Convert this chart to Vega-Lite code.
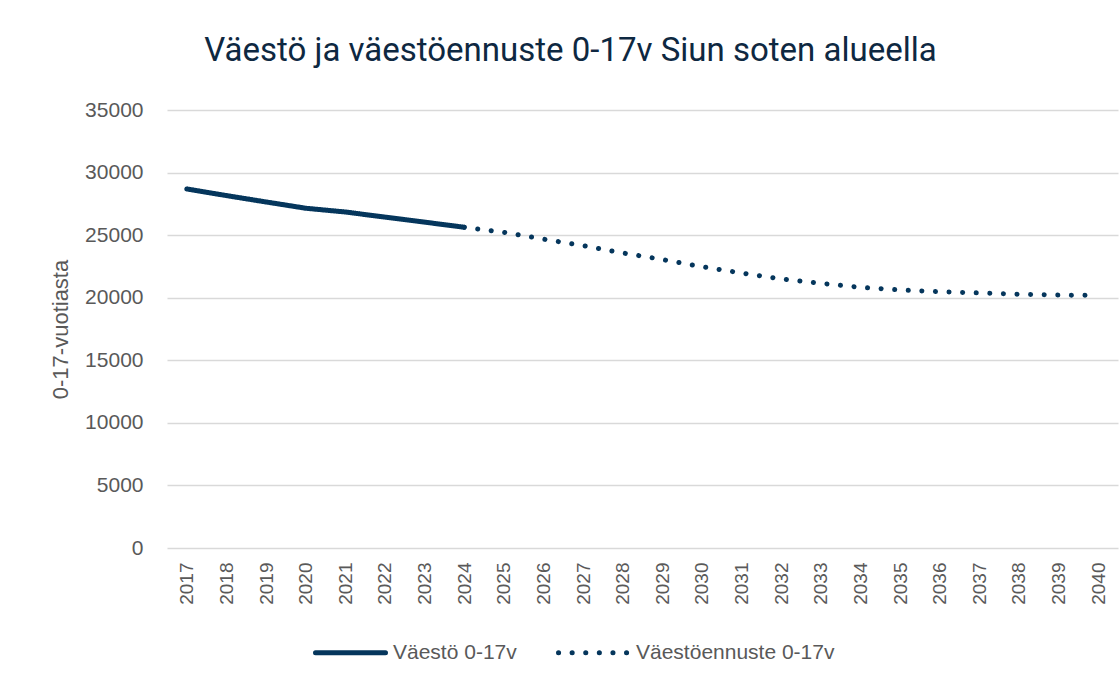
{
  "$schema": "https://vega.github.io/schema/vega-lite/v6.json",
  "autosize": "none",
  "width": 951,
  "height": 438,
  "padding": {"left": 167, "top": 110, "right": 1, "bottom": 137},
  "background": "white",
  "title": {
    "text": "Väestö ja väestöennuste 0-17v Siun soten alueella",
    "font": "Roboto",
    "fontSize": 33,
    "fontWeight": "normal",
    "color": "#0E2841",
    "anchor": "middle",
    "dx": -72,
    "offset": 31
  },
  "config": {
    "view": {"stroke": null},
    "axis": {
      "labelFont": "Liberation Sans, Arial",
      "titleFont": "Liberation Sans, Arial",
      "labelColor": "#595959",
      "titleColor": "#595959",
      "labelFontSize": 19,
      "titleFontSize": 22,
      "titleFontWeight": "normal",
      "gridColor": "#D9D9D9",
      "gridWidth": 1.5,
      "ticks": false,
      "domain": false
    },
    "legend": {
      "labelFont": "Liberation Sans, Arial",
      "labelFontSize": 21,
      "labelColor": "#595959",
      "labelLimit": 400
    }
  },
  "data": {
    "values": [
      {"vuosi": "2017", "sarja": "Väestö 0-17v", "arvo": 28690},
      {"vuosi": "2018", "sarja": "Väestö 0-17v", "arvo": 28160},
      {"vuosi": "2019", "sarja": "Väestö 0-17v", "arvo": 27650},
      {"vuosi": "2020", "sarja": "Väestö 0-17v", "arvo": 27150},
      {"vuosi": "2021", "sarja": "Väestö 0-17v", "arvo": 26850},
      {"vuosi": "2022", "sarja": "Väestö 0-17v", "arvo": 26440},
      {"vuosi": "2023", "sarja": "Väestö 0-17v", "arvo": 26040},
      {"vuosi": "2024", "sarja": "Väestö 0-17v", "arvo": 25630},
      {"vuosi": "2024", "sarja": "Väestöennuste 0-17v", "arvo": 25630},
      {"vuosi": "2025", "sarja": "Väestöennuste 0-17v", "arvo": 25230},
      {"vuosi": "2026", "sarja": "Väestöennuste 0-17v", "arvo": 24680},
      {"vuosi": "2027", "sarja": "Väestöennuste 0-17v", "arvo": 24160},
      {"vuosi": "2028", "sarja": "Väestöennuste 0-17v", "arvo": 23580},
      {"vuosi": "2029", "sarja": "Väestöennuste 0-17v", "arvo": 23050},
      {"vuosi": "2030", "sarja": "Väestöennuste 0-17v", "arvo": 22480},
      {"vuosi": "2031", "sarja": "Väestöennuste 0-17v", "arvo": 21970},
      {"vuosi": "2032", "sarja": "Väestöennuste 0-17v", "arvo": 21500},
      {"vuosi": "2033", "sarja": "Väestöennuste 0-17v", "arvo": 21150},
      {"vuosi": "2034", "sarja": "Väestöennuste 0-17v", "arvo": 20830},
      {"vuosi": "2035", "sarja": "Väestöennuste 0-17v", "arvo": 20620},
      {"vuosi": "2036", "sarja": "Väestöennuste 0-17v", "arvo": 20480},
      {"vuosi": "2037", "sarja": "Väestöennuste 0-17v", "arvo": 20380},
      {"vuosi": "2038", "sarja": "Väestöennuste 0-17v", "arvo": 20280},
      {"vuosi": "2039", "sarja": "Väestöennuste 0-17v", "arvo": 20210},
      {"vuosi": "2040", "sarja": "Väestöennuste 0-17v", "arvo": 20190}
    ]
  },
  "mark": {"type": "line", "strokeWidth": 5, "strokeCap": "round", "color": "#05365C"},
  "encoding": {
    "x": {
      "field": "vuosi",
      "type": "ordinal",
      "scale": {"type": "point", "padding": 0.5},
      "axis": {"title": null, "labelAngle": -90, "labelPadding": 14, "grid": false}
    },
    "y": {
      "field": "arvo",
      "type": "quantitative",
      "scale": {"domain": [0, 35000], "nice": false},
      "axis": {
        "title": "0-17-vuotiasta",
        "values": [0, 5000, 10000, 15000, 20000, 25000, 30000, 35000],
        "format": "d",
        "labelFontSize": 21,
        "labelPadding": 24,
        "titlePadding": 12
      }
    },
    "strokeDash": {
      "field": "sarja",
      "type": "nominal",
      "scale": {
        "domain": ["Väestö 0-17v", "Väestöennuste 0-17v"],
        "range": [[1, 0], [0.1, 13.5]]
      },
      "legend": {
        "title": null,
        "orient": "none",
        "direction": "horizontal",
        "legendX": 146,
        "legendY": 505,
        "symbolType": "stroke",
        "symbolSize": 4900,
        "symbolStrokeWidth": 5,
        "symbolStrokeColor": "#05365C",
        "columnPadding": 31,
        "labelOffset": 5,
        "labelLimit": 400,
        "encode": {"symbols": {"update": {"strokeCap": {"value": "round"}}}}
      }
    }
  }
}
